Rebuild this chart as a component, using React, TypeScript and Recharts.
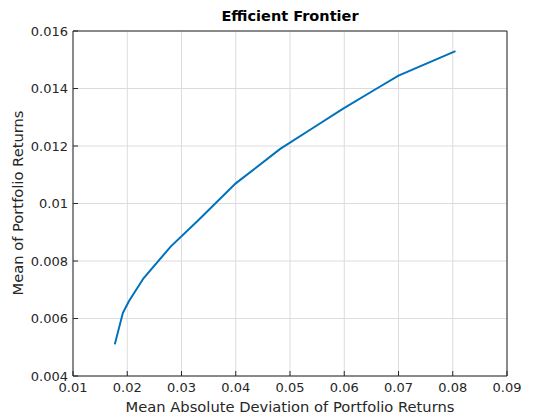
import { LineChart, Line, XAxis, YAxis, CartesianGrid } from "recharts"

// frontier points
const madValues = [0.0177, 0.0192, 0.0203, 0.023, 0.028, 0.033, 0.04, 0.0482, 0.054, 0.0598, 0.066, 0.07, 0.0805]
const meanValues = [0.0051, 0.0062, 0.0066, 0.0074, 0.0085, 0.0094, 0.0107, 0.0119, 0.0126, 0.0133, 0.014, 0.01445, 0.0153]

const xTicks = [0.01, 0.02, 0.03, 0.04, 0.05, 0.06, 0.07, 0.08, 0.09]
const yTicks = [0.004, 0.006, 0.008, 0.01, 0.012, 0.014, 0.016]

const rows = madValues.map((x, i) => ({ mad: x, mean: meanValues[i] }))

const ink = "#262626"
const font = "DejaVu Sans, sans-serif"
const tickStyle = { fill: ink, fontSize: 13, fontFamily: font }

const fmt = (v: number) => String(parseFloat(v.toFixed(4)))

export default function App() {
  return (
    <div style={{ position: "absolute", left: 0, top: 0, width: 560, height: 420, background: "#fff" }}>
      <LineChart width={560} height={420} data={rows} margin={{ top: 30, right: 52, left: 0, bottom: 0 }}>
        <CartesianGrid stroke="#dcdcdc" strokeWidth={1} />
        <XAxis
          dataKey="mad"
          type="number"
          domain={[0.01, 0.09]}
          ticks={xTicks}
          allowDataOverflow
          height={44}
          stroke={ink}
          tickSize={-5}
          tickMargin={12}
          tick={tickStyle}
          tickFormatter={fmt}
        />
        <XAxis
          xAxisId="top"
          dataKey="mad"
          type="number"
          orientation="top"
          domain={[0.01, 0.09]}
          ticks={xTicks}
          allowDataOverflow
          height={1}
          stroke={ink}
          tickSize={-5}
          tick={false}
        />
        <YAxis
          dataKey="mean"
          type="number"
          domain={[0.004, 0.016]}
          ticks={yTicks}
          allowDataOverflow
          width={73}
          stroke={ink}
          tickSize={-5}
          tickMargin={10}
          tick={tickStyle}
          tickFormatter={fmt}
        />
        <YAxis
          yAxisId="right"
          orientation="right"
          type="number"
          domain={[0.004, 0.016]}
          ticks={yTicks}
          allowDataOverflow
          width={1}
          stroke={ink}
          tickSize={-5}
          tick={false}
        />
        <Line
          dataKey="mean"
          stroke="#0072BD"
          strokeWidth={2}
          dot={false}
          isAnimationActive={false}
        />
      </LineChart>
      <div style={{ position: "absolute", left: 73, width: 434, top: 8, textAlign: "center", fontFamily: font, fontWeight: "bold", fontSize: 14.5, color: "#000" }}>
        Efficient Frontier
      </div>
      <div style={{ position: "absolute", left: 73, width: 434, top: 398, textAlign: "center", fontFamily: font, fontSize: 14.7, color: ink }}>
        Mean Absolute Deviation of Portfolio Returns
      </div>
      <div
        style={{
          position: "absolute",
          left: 17,
          top: 203,
          transform: "translate(-50%, -50%) rotate(-90deg)",
          whiteSpace: "nowrap",
          fontFamily: font,
          fontSize: 14.7,
          color: ink,
        }}
      >
        Mean of Portfolio Returns
      </div>
    </div>
  )
}
